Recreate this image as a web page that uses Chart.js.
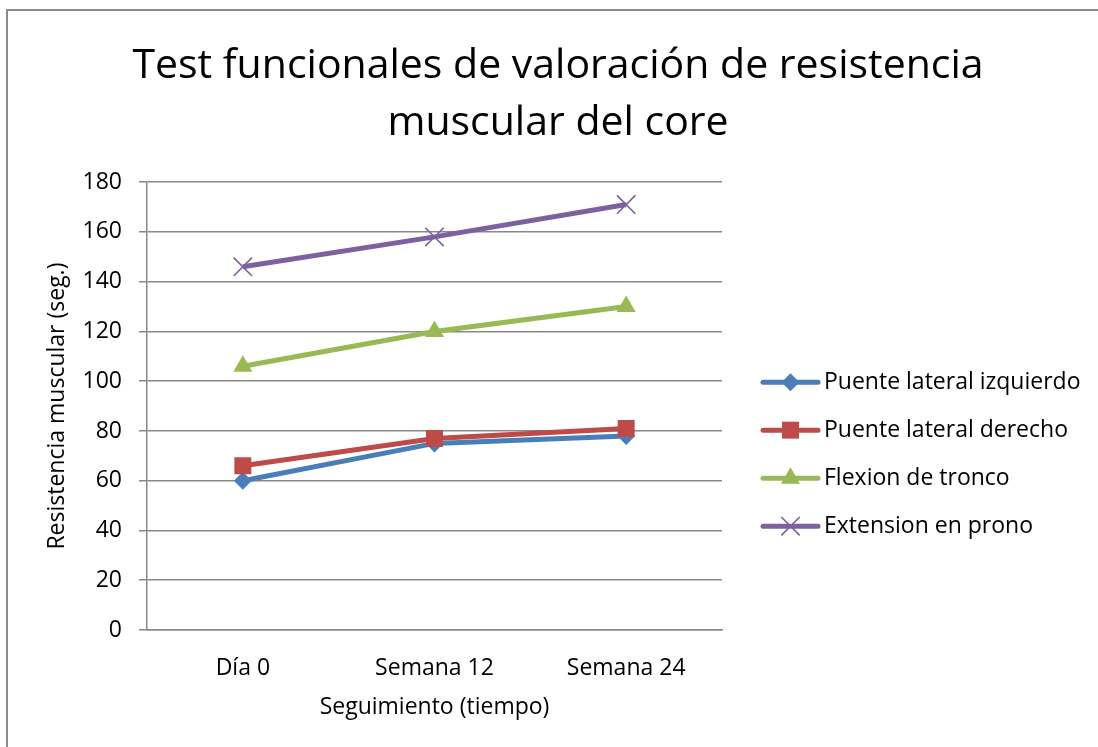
<!DOCTYPE html>
<html>
<head>
<meta charset="utf-8">
<script src="https://cdn.jsdelivr.net/npm/chart.js@4/dist/chart.umd.min.js"></script>
<style>
  html, body { margin: 0; padding: 0; background: #fff; overflow: hidden; width: 1098px; height: 747px; }
  #frame { position: absolute; left: 6px; top: 9px; width: 1200px; height: 800px; border-left: 2px solid #8a8a8a; border-top: 2px solid #8a8a8a; }
  #c { position: absolute; left: 9px; top: 12px; }
</style>
</head>
<body>
<div id="frame"></div>
<canvas id="c" width="1098" height="735"></canvas>
<script>
const titleLines = ["Test funcionales de valoración de resistencia", "muscular del core"];
const categories = ["Día 0", "Semana 12", "Semana 24"];
const seriesNames = ["Puente lateral izquierdo", "Puente lateral derecho", "Flexion de tronco", "Extension en prono"];
const puenteIzquierdo = [60, 75, 78];
const puenteDerecho = [66, 77, 81];
const flexionTronco = [106, 120, 130];
const extensionProno = [146, 158, 171];
const yTicks = [0, 20, 40, 60, 80, 100, 120, 140, 160, 180];
const xAxisTitle = "Seguimiento (tiempo)";
const yAxisTitle = "Resistencia muscular (seg.)";

const FONT = "'Open Sans', sans-serif";
const colors = ["#4A7EBB", "#BE4B48", "#98B954", "#7D60A0"];
const styles = ["rectRot", "rect", "triangle", "crossRot"];
const radii = [9, 12, 11, 13];
const values = [puenteIzquierdo, puenteDerecho, flexionTronco, extensionProno];

function drawMarker(ctx, style, x, y, r, color) {
  ctx.save();
  ctx.fillStyle = color; ctx.strokeStyle = color;
  ctx.beginPath();
  if (style === "rectRot") {
    ctx.moveTo(x, y - r); ctx.lineTo(x + r, y); ctx.lineTo(x, y + r); ctx.lineTo(x - r, y); ctx.closePath(); ctx.fill();
  } else if (style === "rect") {
    const s = Math.SQRT1_2 * r; ctx.rect(x - s, y - s, 2 * s, 2 * s); ctx.fill();
  } else if (style === "triangle") {
    ctx.moveTo(x, y - r); ctx.lineTo(x + r * Math.sqrt(3) / 2, y + r / 2); ctx.lineTo(x - r * Math.sqrt(3) / 2, y + r / 2); ctx.closePath(); ctx.fill();
  } else {
    const s = Math.SQRT1_2 * r; ctx.lineWidth = 1.6;
    ctx.moveTo(x - s, y - s); ctx.lineTo(x + s, y + s); ctx.moveTo(x + s, y - s); ctx.lineTo(x - s, y + s); ctx.stroke();
  }
  ctx.restore();
}

const legendPlugin = {
  id: "sideLegend",
  afterDraw(chart) {
    const ctx = chart.ctx;
    const ca = chart.chartArea;
    const x0 = ca.right + 41;
    const yStart = ca.top + 200;
    const step = 48;
    chart.data.datasets.forEach((ds, i) => {
      const y = yStart + i * step;
      ctx.save();
      ctx.strokeStyle = ds.borderColor; ctx.lineWidth = 5; ctx.lineCap = "round";
      ctx.beginPath(); ctx.moveTo(x0, y); ctx.lineTo(x0 + 55, y); ctx.stroke();
      ctx.restore();
      drawMarker(ctx, ds.pointStyle, x0 + 27.5, y, ds.pointRadius, ds.borderColor);
      ctx.save();
      ctx.fillStyle = "#000"; ctx.font = "23px " + FONT; ctx.textBaseline = "middle"; ctx.textAlign = "left";
      ctx.fillText(ds.label, x0 + 61, y);
      ctx.restore();
    });
  }
};

const datasets = seriesNames.map((name, i) => ({
  label: name,
  data: values[i],
  borderColor: colors[i],
  backgroundColor: colors[i],
  borderWidth: 5,
  pointStyle: styles[i],
  pointRadius: radii[i],
  pointHoverRadius: radii[i],
  pointBorderWidth: styles[i] === "crossRot" ? 1.6 : 0,
  pointBorderColor: colors[i],
  pointBackgroundColor: colors[i],
  tension: 0,
  order: 3 - i
}));

new Chart(document.getElementById("c"), {
  type: "line",
  data: { labels: categories, datasets },
  plugins: [legendPlugin],
  options: {
    responsive: false,
    animation: false,
    devicePixelRatio: 1,
    layout: { padding: { top: 0, left: 0, right: 0, bottom: 0 } },
    plugins: {
      legend: { display: false },
      tooltip: { enabled: false },
      title: {
        display: true,
        text: titleLines,
        color: "#000",
        font: { family: FONT, size: 41, weight: "normal", lineHeight: 1.38 },
        padding: { top: 26, bottom: 31 }
      }
    },
    scales: {
      x: {
        type: "category",
        offset: true,
        grid: { display: false },
        border: { display: true, color: "#888", width: 1.5 },
        ticks: { color: "#000", font: { family: FONT, size: 23 }, padding: 17, maxRotation: 0 },
        title: { display: true, text: xAxisTitle, color: "#000", font: { family: FONT, size: 23 }, padding: { top: 0, bottom: 26 } },
        afterFit(scale) { scale.height = 117; }
      },
      y: {
        min: yTicks[0],
        max: yTicks[yTicks.length - 1],
        afterBuildTicks(scale) { scale.ticks = yTicks.map(v => ({ value: v })); },
        grid: { color: "#888", lineWidth: 1.5, tickLength: 8, drawTicks: true },
        border: { display: true, color: "#888", width: 1.5 },
        ticks: { color: "#000", font: { family: FONT, size: 23 }, padding: 17 },
        title: { display: true, text: yAxisTitle, color: "#000", font: { family: FONT, size: 23 }, padding: { top: 35, bottom: 0 } },
        afterFit(scale) { scale.width = 138; }
      },
      spacer: {
        type: "linear",
        position: "right",
        display: true,
        grid: { display: false, drawOnChartArea: false },
        border: { display: false },
        ticks: { display: false },
        afterFit(scale) { scale.width = 385; }
      }
    }
  }
});
</script>
</body>
</html>
